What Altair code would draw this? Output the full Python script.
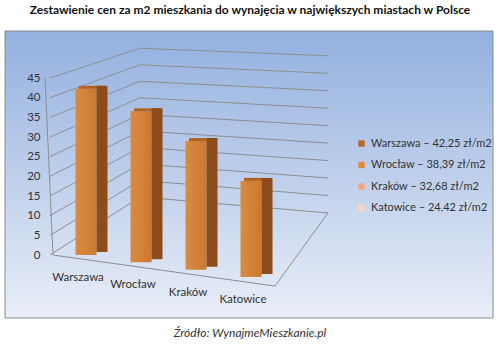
import altair as alt
import pandas as pd

# ---- data ----
cities = ["Warszawa", "Wrocław", "Kraków", "Katowice"]
prices = [42.25, 38.39, 32.68, 24.42]
legend_labels = [
    "Warszawa – 42,25 zł/m2",
    "Wrocław – 38,39 zł/m2",
    "Kraków – 32,68 zł/m2",
    "Katowice – 24,42 zł/m2",
]
legend_colors = ["#B5672B", "#E08A3E", "#F2A878", "#F8D6C3"]
y_ticks = [0, 5, 10, 15, 20, 25, 30, 35, 40, 45]
title_text = "Zestawienie cen za m2 mieszkania do wynajęcia w największych miastach w Polsce"
source_text = "Źródło: WynajmeMieszkanie.pl"

# ---- pseudo-3D projection constants (style) ----
DROP = 1.86             # floor drop per category (value units)
BACK_L = (14.76, 0.84)  # back-left corner mapping of a gridline value
BACK_R = (10.69, 0.888) # back-right corner mapping
FONT = "Lato"

bars = pd.DataFrame({"city": cities, "price": prices, "idx": list(range(len(cities))),
                     "label": legend_labels})
grid = pd.DataFrame({"v": y_ticks})
one = pd.DataFrame({"a": [0]})

yscale = alt.Scale(domain=[0, 45], zero=False, nice=False)
yaxis = alt.Axis(values=y_ticks, domain=False, ticks=False, grid=False, zindex=2,
                 labelPadding=7, labelFont=FONT, labelFontSize=11.5,
                 labelColor="#333333", title=None)
xscale = alt.Scale(domain=cities, paddingInner=0.618, paddingOuter=0.909, align=0.285)

panel = alt.Chart(one).mark_rect(
    color=alt.Gradient(gradient="linear",
                       stops=[alt.GradientStop(color="#93B0DF", offset=0),
                              alt.GradientStop(color="#E9EEF8", offset=1)],
                       x1=0, x2=0, y1=0, y2=1),
    stroke="#8A8A8A", strokeWidth=1,
).encode(x=alt.value(-42), x2=alt.value(446), y=alt.value(-47), y2=alt.value(240))

gbase = alt.Chart(grid).transform_calculate(
    vb=f"{BACK_L[0]} + {BACK_L[1]}*datum.v",
    vr=f"{BACK_R[0]} + {BACK_R[1]}*datum.v",
)
side_grid = gbase.mark_rule(color="#8E8E8E", strokeWidth=1).encode(
    x=alt.value(3), x2=alt.value(93),
    y=alt.Y("v:Q", scale=yscale, axis=yaxis),
    y2="vb:Q",
)
back_grid = gbase.mark_rule(color="#8E8E8E", strokeWidth=1).encode(
    x=alt.value(93), x2=alt.value(281), y=alt.Y("vb:Q", scale=yscale, axis=yaxis), y2="vr:Q",
)

frame = alt.Chart(one)
front_axis = frame.mark_rule(color="#8E8E8E").encode(
    x=alt.value(-2), x2=alt.value(6), y=alt.datum(45, scale=yscale, axis=yaxis), y2=alt.datum(0))
floor_front = frame.mark_rule(color="#8E8E8E").encode(
    x=alt.value(6), x2=alt.value(228), y=alt.datum(0, scale=yscale, axis=yaxis), y2=alt.datum(-7.9))
floor_right = frame.mark_rule(color="#8E8E8E").encode(
    x=alt.value(228), x2=alt.value(281), y=alt.datum(-7.9, scale=yscale, axis=yaxis),
    y2=alt.datum(BACK_R[0]))

bbase = alt.Chart(bars).transform_calculate(
    base=f"-{DROP}*datum.idx",
    top=f"datum.price - {DROP}*datum.idx",
)
X = alt.X("city:N", scale=xscale, axis=None, sort=cities)
YT = alt.Y("top:Q", scale=yscale, axis=yaxis)

front = bbase.mark_bar(
    color=alt.Gradient(gradient="linear",
                       stops=[alt.GradientStop(color="#D98B41", offset=0),
                              alt.GradientStop(color="#CC7830", offset=1)],
                       x1=0, x2=1, y1=0, y2=0)
).encode(x=X, y=YT, y2="base:Q")

top_face = bbase.mark_bar(color="#B4611F", width=26, xOffset=6, yOffset=-3).encode(
    x=X, y=YT, y2="top:Q")

side = bbase.mark_bar(color="#8C4C1C", width=11, xOffset=16, yOffset=-3, y2Offset=-3).encode(
    x=X, y=YT, y2="base:Q")

xlabels = bbase.mark_text(font=FONT, fontSize=11.5, color="#333333", dx=-8, dy=23).encode(
    x=X, y=alt.Y("base:Q", scale=yscale, axis=yaxis), text="city:N")

legend_layer = bbase.mark_point(size=0, filled=True, opacity=1).encode(
    x=X, y=YT,
    color=alt.Color("label:N",
                    scale=alt.Scale(domain=legend_labels, range=legend_colors),
                    sort=legend_labels,
                    legend=alt.Legend(title=None, orient="none", legendX=309, legendY=60,
                                      symbolType="square", symbolSize=40, symbolOpacity=1,
                                      symbolStrokeWidth=0,
                                      labelFont=FONT, labelFontSize=11, labelColor="#333333",
                                      rowPadding=9.5, labelOffset=4, padding=0)),
)

source = alt.Chart(one).mark_text(font=FONT, fontSize=12, fontStyle="italic",
                                  color="#333333").encode(
    x=alt.value(203), y=alt.value(255), text=alt.value(source_text))

chart = alt.layer(
    panel, side_grid, back_grid, front_axis, floor_front, floor_right,
    front, top_face, side, xlabels, legend_layer, source,
).properties(
    width=286, height=177,
    autosize=alt.AutoSizeParams(type="none"),
    padding={"left": 47, "top": 78, "right": 167, "bottom": 98},
    title=alt.TitleParams(text=title_text, anchor="middle", dx=60, offset=14,
                          font=FONT, fontSize=12, fontWeight="bold", color="#111111"),
).configure_view(stroke=None).configure(background="white")

chart.save("out.html", embed_options={"renderer": "svg", "actions": False})
